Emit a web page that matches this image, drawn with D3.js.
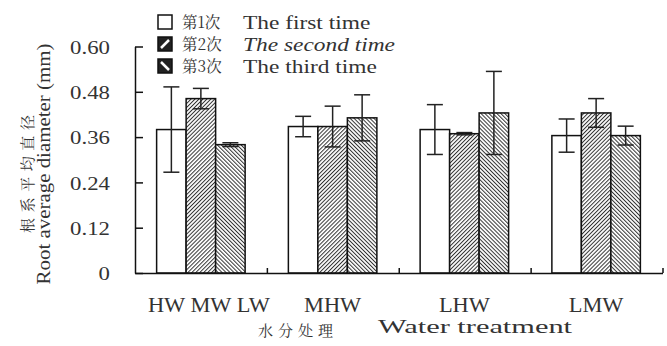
<!DOCTYPE html>
<html>
<head>
<meta charset="utf-8">
<script src="https://cdn.jsdelivr.net/npm/d3@7"></script>
<style>
  body { margin: 0; background: #fff; }
</style>
</head>
<body>
<div id="chart"></div>
<script>
var categories = ["HW MW LW", "MHW", "LHW", "LMW"];
var seriesNames = ["第1次", "第2次", "第3次"];
var seriesEnglish = ["The first time", "The second time", "The third time"];
var first  = [0.380, 0.388, 0.380, 0.364];
var second = [0.462, 0.388, 0.369, 0.424];
var third  = [0.340, 0.411, 0.424, 0.364];
var firstErr  = [0.113, 0.027, 0.066, 0.044];
var secondErr = [0.027, 0.054, 0.003, 0.038];
var thirdErr  = [0.005, 0.061, 0.110, 0.025];
var yTicks = [0, 0.12, 0.24, 0.36, 0.48, 0.60];

var svgWidth = 667;
var svgHeight = 346;
var serif = "'Liberation Serif'";
var cjk = "'Noto Serif CJK SC', 'Noto Sans CJK SC'";
var ink = "#333";

var svg = d3.select("#chart")
  .append("svg")
  .attr("width", svgWidth)
  .attr("height", svgHeight);

// widen latin text by scaling (spacing tricks drop the serif font here)
function stretch(sel, sx) {
  sel.each(function() {
    var t = d3.select(this);
    var x = +t.attr("x") || 0;
    var yy = +t.attr("y") || 0;
    t.attr("x", 0).attr("y", 0)
      .attr("transform", `translate(${x},${yy}) scale(${sx},1)`);
  });
}

// hatch patterns
var defs = svg.append("defs");
function hatch(id, angle) {
  var p = defs.append("pattern")
    .attr("id", id)
    .attr("patternUnits", "userSpaceOnUse")
    .attr("width", 2.8)
    .attr("height", 10)
    .attr("patternTransform", "rotate(" + angle + ")");
  p.append("rect").attr("width", 2.8).attr("height", 10).attr("fill", "#fff");
  p.append("line")
    .attr("x1", 0.5).attr("y1", 0).attr("x2", 0.5).attr("y2", 10)
    .attr("stroke", "#333").attr("stroke-width", 1);
}
hatch("fwd", 45);
hatch("back", -45);
var fills = ["#fff", "url(#fwd)", "url(#back)"];

// scales
var x0 = d3.scaleBand()
  .domain(categories)
  .range([135, 662]);

var x1 = d3.scaleBand()
  .domain([0, 1, 2])
  .range([0, x0.bandwidth()])
  .paddingOuter(0.733);

var y = d3.scaleLinear()
  .domain([0, 0.6])
  .range([273, 46.5]);

// data table
var table = categories.map(function(c, i) {
  return {
    cat: c,
    vals: [
      {s: 0, v: first[i], e: firstErr[i]},
      {s: 1, v: second[i], e: secondErr[i]},
      {s: 2, v: third[i], e: thirdErr[i]}
    ]
  };
});

// bars
var groups = svg.selectAll(".grp")
  .data(table)
  .enter()
  .append("g")
  .attr("transform", d => `translate(${x0(d.cat)},0)`);

groups.selectAll("rect")
  .data(d => d.vals)
  .enter()
  .append("rect")
  .attr("x", d => x1(d.s))
  .attr("y", d => y(d.v))
  .attr("width", x1.bandwidth())
  .attr("height", d => y(0) - y(d.v))
  .attr("fill", d => fills[d.s])
  .attr("stroke", "#111")
  .attr("stroke-width", 1.5);

// error bars
var eb = groups.selectAll(".err")
  .data(d => d.vals)
  .enter()
  .append("g")
  .attr("stroke", "#222")
  .attr("stroke-width", 1.5);

eb.append("line")
  .attr("x1", d => x1(d.s) + x1.bandwidth() / 2)
  .attr("x2", d => x1(d.s) + x1.bandwidth() / 2)
  .attr("y1", d => y(d.v - d.e))
  .attr("y2", d => y(d.v + d.e));
[-1, 1].forEach(function(k) {
  eb.append("line")
    .attr("x1", d => x1(d.s) + x1.bandwidth() / 2 - 8)
    .attr("x2", d => x1(d.s) + x1.bandwidth() / 2 + 8)
    .attr("y1", d => y(d.v + k * d.e))
    .attr("y2", d => y(d.v + k * d.e));
});

// y axis
var leftAxis = d3.axisLeft(y)
  .tickValues(yTicks)
  .tickSizeInner(-8)
  .tickSizeOuter(0)
  .tickPadding(25)
  .tickFormat(d => d === 0 ? "0" : d3.format(".2f")(d));

var yAxis = svg.append("g")
  .attr("transform", "translate(135,0)")
  .call(leftAxis);
yAxis.selectAll("path, line").attr("stroke", "#111").attr("stroke-width", 1.5);
yAxis.selectAll("text")
  .attr("dy", "0.36em")
  .attr("fill", ink)
  .style("font-family", serif)
  .style("font-size", "19px");
stretch(yAxis.selectAll("text"), 1.2);

// x axis, ticks at category boundaries
var xb = d3.scaleLinear().domain([0, categories.length]).range([135, 662.5]);
var bottomAxis = d3.axisBottom(xb)
  .tickValues([1, 2, 3, 4])
  .tickSizeInner(-5)
  .tickSizeOuter(0)
  .tickFormat("");
var xAxis = svg.append("g")
  .attr("transform", "translate(0,273)")
  .call(bottomAxis);
xAxis.selectAll("path, line").attr("stroke", "#111").attr("stroke-width", 1.5);

// category labels
var catLabels = svg.selectAll(".cat")
  .data(categories)
  .enter()
  .append("text")
  .attr("x", (d, i) => x0(d) + x0.bandwidth() / 2 + (i === 0 ? 8 : 0))
  .attr("y", 312)
  .attr("text-anchor", "middle")
  .attr("fill", ink)
  .style("font-family", serif)
  .style("font-size", "20px")
  .text(d => d);
stretch(catLabels, 1.12);

// x axis title
svg.append("text")
  .attr("x", 258)
  .attr("y", 336)
  .attr("fill", ink)
  .attr("textLength", 75)
  .attr("lengthAdjust", "spacing")
  .style("font-family", cjk)
  .style("font-size", "15px")
  .text("水分处理");
var xTitle = svg.append("text")
  .attr("x", 378)
  .attr("y", 333)
  .attr("fill", ink)
  .style("font-family", serif)
  .style("font-size", "19px")
  .text("Water treatment");
stretch(xTitle, 1.6);

// y axis title
svg.append("text")
  .attr("transform", "translate(33,174) rotate(-90)")
  .attr("text-anchor", "middle")
  .attr("fill", ink)
  .attr("textLength", 118)
  .attr("lengthAdjust", "spacing")
  .style("font-family", cjk)
  .style("font-size", "15px")
  .text("根系平均直径");
svg.append("text")
  .attr("transform", "translate(50,164) rotate(-90) scale(1.1,1)")
  .attr("text-anchor", "middle")
  .attr("fill", ink)
  .style("font-family", serif)
  .style("font-size", "19px")
  .text("Root average diameter (mm)");

// legend
var legend = svg.selectAll(".leg")
  .data(seriesNames)
  .enter()
  .append("g")
  .attr("transform", (d, i) => `translate(158,${15 + i * 22})`);

legend.append("rect")
  .attr("width", 14)
  .attr("height", 14)
  .attr("fill", (d, i) => i === 0 ? "#fff" : "#222")
  .attr("stroke", "#111")
  .attr("stroke-width", 1.5);

legend.filter((d, i) => i > 0)
  .append("line")
  .attr("x1", 3)
  .attr("y1", (d, i) => i === 0 ? 11 : 3)
  .attr("x2", 11)
  .attr("y2", (d, i) => i === 0 ? 3 : 11)
  .attr("stroke", "#fff")
  .attr("stroke-width", 2.5);

legend.append("text")
  .attr("x", 24)
  .attr("y", 13)
  .attr("fill", ink)
  .style("font-family", cjk)
  .style("font-size", "15.5px")
  .text(d => d);

var legText = legend.append("text")
  .attr("x", 85)
  .attr("y", 14)
  .attr("fill", ink)
  .style("font-family", serif)
  .style("font-size", "18px")
  .style("font-style", (d, i) => i === 1 ? "italic" : "normal")
  .text((d, i) => seriesEnglish[i]);
stretch(legText, 1.3);
</script>
</body>
</html>
